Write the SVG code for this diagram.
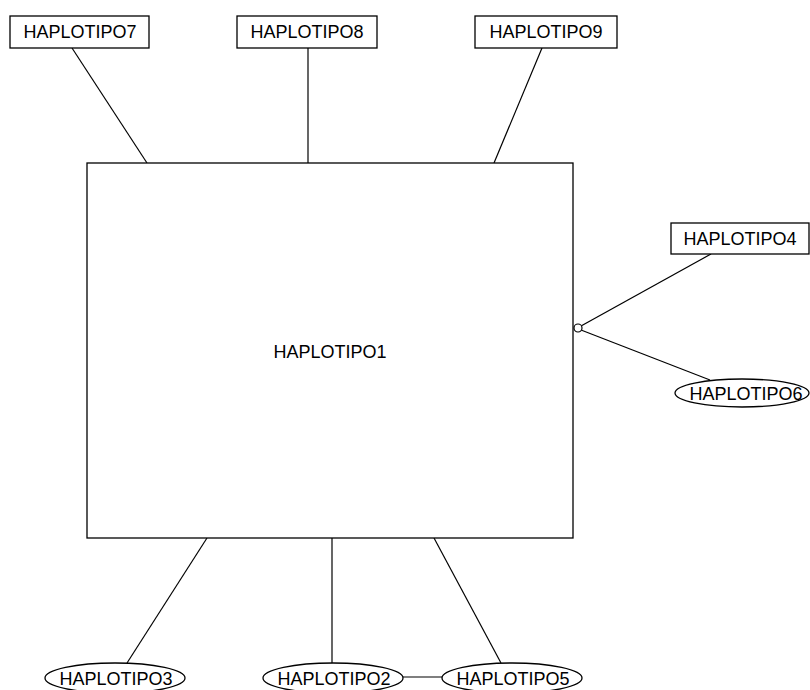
<svg xmlns="http://www.w3.org/2000/svg" width="810" height="690" viewBox="0 0 810 690">
<style>
rect, ellipse { fill: #ffffff; stroke: #000000; stroke-width: 1.3; }
line { stroke: #000000; stroke-width: 1.2; }
text { font-family: "Liberation Sans", Arial, sans-serif; font-size: 18px; fill: #000000; text-anchor: middle; }
.dot { fill: #ffffff; stroke: #000000; stroke-width: 1.2; }
</style>
<rect x="0" y="0" width="810" height="690" style="fill:#ffffff;stroke:none"/>
<g id="connectors">
<line x1="72" y1="48" x2="147" y2="163"/>
<line x1="308" y1="48" x2="308" y2="163"/>
<line x1="542" y1="48" x2="494" y2="163"/>
<line x1="711" y1="254" x2="581" y2="326"/>
<line x1="581" y1="330" x2="710" y2="380"/>
<line x1="207" y1="538" x2="127" y2="663"/>
<line x1="332" y1="538" x2="332" y2="663"/>
<line x1="434" y1="538" x2="501" y2="663"/>
<line x1="403" y1="677" x2="442" y2="677"/>
<circle class="dot" cx="578" cy="328" r="4"/>
</g>
<g id="HAPLOTIPO1"><rect x="87" y="163" width="486" height="375"/><text x="330" y="358">HAPLOTIPO1</text></g>
<g id="HAPLOTIPO7"><rect x="10" y="16" width="139" height="32"/><text x="80" y="38">HAPLOTIPO7</text></g>
<g id="HAPLOTIPO8"><rect x="237" y="16" width="140" height="32"/><text x="307" y="38">HAPLOTIPO8</text></g>
<g id="HAPLOTIPO9"><rect x="475" y="16" width="142" height="32"/><text x="546" y="38">HAPLOTIPO9</text></g>
<g id="HAPLOTIPO4"><rect x="671" y="223" width="138" height="31"/><text x="740" y="245">HAPLOTIPO4</text></g>
<g id="HAPLOTIPO6"><ellipse cx="742" cy="393" rx="67" ry="14"/><text x="746" y="400">HAPLOTIPO6</text></g>
<g id="HAPLOTIPO3"><ellipse cx="115" cy="678" rx="70" ry="15"/><text x="116" y="685">HAPLOTIPO3</text></g>
<g id="HAPLOTIPO2"><ellipse cx="333" cy="678" rx="70" ry="15"/><text x="334" y="685">HAPLOTIPO2</text></g>
<g id="HAPLOTIPO5"><ellipse cx="512" cy="678" rx="70" ry="15"/><text x="513" y="685">HAPLOTIPO5</text></g>
</svg>
